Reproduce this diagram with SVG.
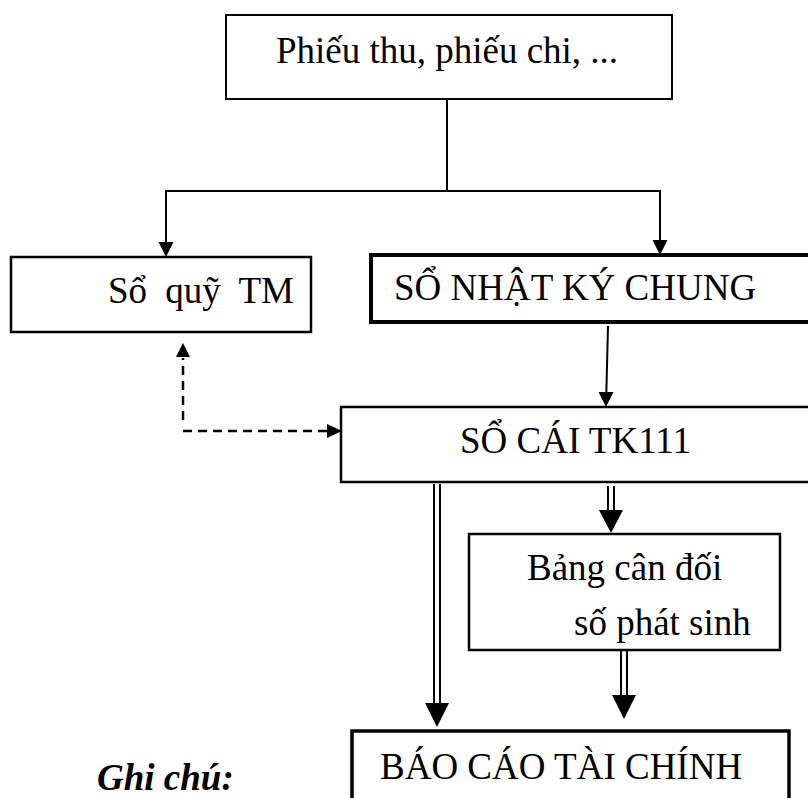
<svg xmlns="http://www.w3.org/2000/svg" width="808" height="798" viewBox="0 0 808 798">
<style>
  .box { fill: #fff; stroke: #000; }
  .t { font-family: "Liberation Serif", "Times New Roman", serif; font-size: 37px; fill: #000; }
  .ln { stroke: #000; stroke-width: 2; fill: none; }
  .dash { stroke: #000; stroke-width: 2.5; fill: none; stroke-dasharray: 9 6; }
  .head { fill: #000; stroke: none; }
</style>
<rect width="808" height="798" fill="#fff"/>
<g id="connectors">
  <line class="ln" x1="447" y1="99" x2="447" y2="191"/>
  <line class="ln" x1="165" y1="191" x2="661" y2="191"/>
  <line class="ln" x1="166" y1="191" x2="166" y2="243"/>
  <polygon class="head" points="158.5,242 173.5,242 166,257"/>
  <line class="ln" x1="660" y1="191" x2="660" y2="241"/>
  <polygon class="head" points="652.5,240 667.5,240 660,255"/>
  <line class="ln" x1="608" y1="326" x2="606.3" y2="394"/>
  <polygon class="head" points="598.5,392 613.5,392 606,407"/>
  <path class="dash" d="M183,420 L183,358"/>
  <path class="dash" d="M183,431 L328,431"/>
  <polygon class="head" points="176,357 190,357 183,343"/>
  <polygon class="head" points="327,424 327,438 342,431"/>
  <line class="ln" x1="434" y1="484" x2="434" y2="704"/>
  <line class="ln" x1="440" y1="484" x2="440" y2="704"/>
  <polygon class="head" points="425,703 449,703 437,727"/>
  <line class="ln" x1="608" y1="486" x2="608" y2="511"/>
  <line class="ln" x1="614" y1="486" x2="614" y2="511"/>
  <polygon class="head" points="599,510 623,510 611,533"/>
  <line class="ln" x1="621" y1="651" x2="621" y2="696"/>
  <line class="ln" x1="627" y1="651" x2="627" y2="696"/>
  <polygon class="head" points="612,695 636,695 624,719"/>
</g>
<g id="phieu">
  <rect class="box" x="226" y="15" width="446" height="84" stroke-width="2"/>
  <text class="t" x="447" y="63" text-anchor="middle">Phiếu thu, phiếu chi, ...</text>
</g>
<g id="soquy">
  <rect class="box" x="11" y="257" width="300" height="75" stroke-width="2.5"/>
  <text class="t" x="108" y="303" word-spacing="9">Sổ quỹ TM</text>
</g>
<g id="nhatky">
  <rect class="box" x="371" y="255" width="450" height="67" stroke-width="4"/>
  <text class="t" x="394" y="300">SỔ NHẬT KÝ CHUNG</text>
</g>
<g id="socai">
  <rect class="box" x="341" y="407" width="480" height="75" stroke-width="2.5"/>
  <text class="t" x="460" y="453">SỔ CÁI TK111</text>
</g>
<g id="bangcandoi">
  <rect class="box" x="469" y="534" width="311" height="116" stroke-width="2.5"/>
  <text class="t" x="527" y="580">Bảng cân đối</text>
  <text class="t" x="574" y="635">số phát sinh</text>
</g>
<g id="baocao">
  <rect class="box" x="352" y="731" width="437" height="80" stroke-width="3.5"/>
  <text class="t" x="380" y="779">BÁO CÁO TÀI CHÍNH</text>
</g>
<text class="t" x="97" y="790" font-weight="bold" font-style="italic" font-size="36">Ghi chú:</text>
</svg>
